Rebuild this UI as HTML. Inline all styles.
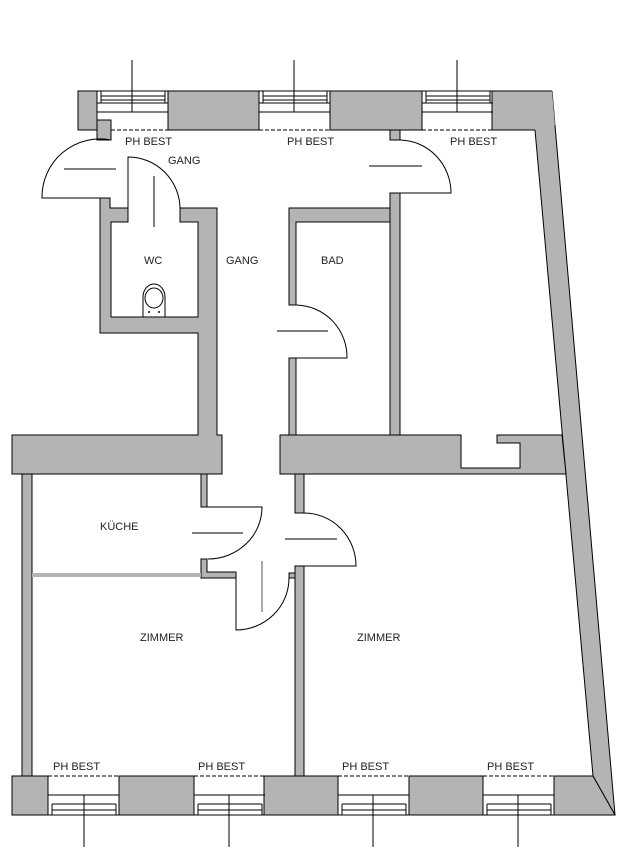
<!DOCTYPE html>
<html><head><meta charset="utf-8"><style>
html,body{margin:0;padding:0;background:#fff;}
svg{display:block;}
text{font-family:"Liberation Sans",sans-serif;font-size:11px;fill:#222;}
</style></head><body>
<svg width="640" height="853" viewBox="0 0 640 853" xmlns="http://www.w3.org/2000/svg">
<g fill="#b4b4b4" stroke="#000" stroke-width="1">
<rect x="78" y="91" width="19" height="39"/>
<rect x="168" y="91" width="91" height="39"/>
<rect x="330" y="91" width="92" height="39"/>
<polygon points="552,91 615,815 593,776 535,130"/>
<polygon points="492,91 552,91 555,125 535,130 492,130" stroke="none"/>
<polyline points="535,130 492,130 492,91 552,91" fill="none"/>
<rect x="97" y="120" width="14" height="20"/>
<rect x="390" y="130" width="10" height="10"/>
<polygon points="100,198 110,198 110,208 128,208 128,222 111,222 111,317 198,317 198,222 180,222 180,208 217,208 217,435 222,435 222,474 12,474 12,435 198,435 198,333 100,333"/>
<polygon points="280,435 461,435 461,468 520,468 520,443 497,443 497,435 562,435 566,474 280,474"/>
<polygon points="289,208 390,208 390,222 296,222 296,305 289,305"/>
<rect x="289" y="358" width="7" height="77"/>
<rect x="390" y="193" width="10" height="242"/>
<rect x="22" y="474" width="10" height="302"/>
<rect x="201" y="474" width="6" height="33"/>
<polygon points="201,559 207,559 207,572 236,572 236,578 201,578"/>
<rect x="32" y="573" width="169" height="4" stroke="none"/>
<rect x="295" y="474" width="9" height="39"/>
<rect x="295" y="566" width="9" height="210"/>
<rect x="289" y="573" width="6" height="5"/>
<polygon points="12,776 48,776 48,815 12,815" />
<rect x="119" y="776" width="75" height="39"/>
<rect x="264" y="776" width="74" height="39"/>
<rect x="409" y="776" width="74" height="39"/>
<polygon points="554,776 593,776 615,815 554,815"/>
</g>
<g fill="none" stroke="#000" stroke-width="1">
<g id="tw">
<line x1="97" y1="91" x2="168" y2="91"/>
<line x1="101" y1="96" x2="165" y2="96"/>
<line x1="101" y1="100" x2="165" y2="100"/>
<line x1="97" y1="103" x2="168" y2="103"/>
<line x1="97" y1="112" x2="168" y2="112"/>
<line x1="101" y1="91" x2="101" y2="103"/>
<line x1="165" y1="91" x2="165" y2="103"/>
</g>
<use href="#tw" x="162"/>
<use href="#tw" x="325"/>
<line x1="132" y1="60" x2="132" y2="112"/>
<line x1="294" y1="60" x2="294" y2="112"/>
<line x1="457" y1="60" x2="457" y2="112"/>
<g stroke-dasharray="4,2">
<line x1="111" y1="130" x2="168" y2="130"/>
<line x1="259" y1="130" x2="330" y2="130"/>
<line x1="422" y1="130" x2="492" y2="130"/>
</g>
<g id="bw">
<line x1="48" y1="795" x2="119" y2="795"/>
<line x1="52" y1="804" x2="116" y2="804"/>
<line x1="52" y1="810" x2="116" y2="810"/>
<line x1="48" y1="815" x2="119" y2="815"/>
<line x1="52" y1="804" x2="52" y2="815"/>
<line x1="116" y1="804" x2="116" y2="815"/>
</g>
<use href="#bw" x="146"/>
<use href="#bw" x="290"/>
<use href="#bw" x="435"/>
<line x1="84" y1="795" x2="84" y2="847"/>
<line x1="229" y1="795" x2="229" y2="847"/>
<line x1="373" y1="795" x2="373" y2="847"/>
<line x1="518" y1="795" x2="518" y2="847"/>
<g stroke-dasharray="4,2">
<line x1="48" y1="776" x2="119" y2="776"/>
<line x1="194" y1="776" x2="264" y2="776"/>
<line x1="338" y1="776" x2="409" y2="776"/>
<line x1="483" y1="776" x2="554" y2="776"/>
</g>
<line x1="12" y1="815" x2="615" y2="815"/>
<line x1="32" y1="776" x2="48" y2="776"/>
<line x1="304" y1="776" x2="338" y2="776"/>
<path d="M111,140 A58,58 0 0 0 42,198 L100,198"/>
<line x1="64" y1="169" x2="116" y2="169"/>
<path d="M128,222 L128,157 A52,52 0 0 1 180,209"/>
<line x1="154" y1="176" x2="154" y2="227"/>
<path d="M296,305 A52,52 0 0 1 347,358 L296,358"/>
<line x1="277" y1="331" x2="328" y2="331"/>
<path d="M400,140 A52,53 0 0 1 451,193 L400,193"/>
<line x1="369" y1="166" x2="422" y2="166"/>
<path d="M207,507 L262,507 A54,52 0 0 1 208,559"/>
<line x1="192" y1="533" x2="243" y2="533"/>
<path d="M304,513 A52,53 0 0 1 356,566 L304,566"/>
<line x1="285" y1="539" x2="337" y2="539"/>
<path d="M236,578 L236,630 A53,52 0 0 0 289,578"/>
<line x1="262" y1="561" x2="262" y2="612" stroke="#555"/>
<path d="M143,317 L143,297 A11,13 0 0 1 165,297 L165,317"/>
<ellipse cx="154" cy="298" rx="9" ry="10"/>
<line x1="148" y1="312" x2="150" y2="312"/><line x1="149" y1="311" x2="149" y2="313"/>
<line x1="158" y1="312" x2="160" y2="312"/><line x1="159" y1="311" x2="159" y2="313"/>
</g>
<text x="125" y="145">PH BEST</text>
<text x="287" y="145">PH BEST</text>
<text x="450" y="145">PH BEST</text>
<text x="168" y="164">GANG</text>
<text x="144" y="264">WC</text>
<text x="226" y="264">GANG</text>
<text x="321" y="264">BAD</text>
<text x="100" y="530">KÜCHE</text>
<text x="140" y="641">ZIMMER</text>
<text x="357" y="641">ZIMMER</text>
<text x="53" y="770">PH BEST</text>
<text x="198" y="770">PH BEST</text>
<text x="342" y="770">PH BEST</text>
<text x="487" y="770">PH BEST</text>
</svg>
</body></html>
